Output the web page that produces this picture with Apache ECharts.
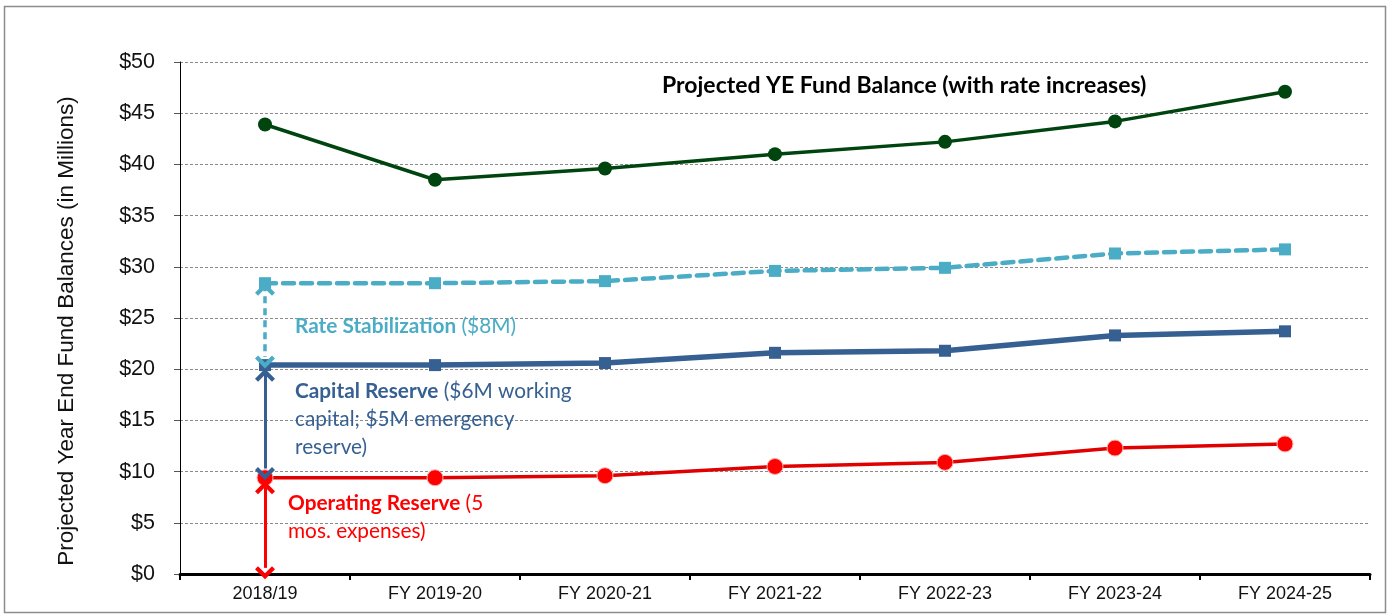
<!DOCTYPE html>
<html>
<head>
<meta charset="utf-8">
<script src="https://cdn.jsdelivr.net/npm/echarts@6/dist/echarts.min.js"></script>
<style>
html,body{margin:0;padding:0;background:#fff;}
#chart{width:1389px;height:615px;}
</style>
</head>
<body>
<div id="chart"></div>
<script>
const categories = ['2018/19','FY 2019-20','FY 2020-21','FY 2021-22','FY 2022-23','FY 2023-24','FY 2024-25'];
const fundBalance = [43.9, 38.5, 39.6, 41.0, 42.2, 44.2, 47.1];
const rateStabilization = [28.4, 28.4, 28.6, 29.6, 29.9, 31.3, 31.7];
const capitalReserve = [20.4, 20.4, 20.6, 21.6, 21.8, 23.3, 23.7];
const operatingReserve = [9.4, 9.4, 9.6, 10.5, 10.9, 12.3, 12.7];
const yTicks = [0, 5, 10, 15, 20, 25, 30, 35, 40, 45, 50];

const GREEN = '#00450f', CYAN = '#4BACC6', BLUE = '#376092', RED = '#FF0000';
const FONT = 'Lato, "Open Sans", sans-serif';
const chevron = 'path://M10,0 L20,10 L17,13 L10,6 L3,13 L0,10 Z';

// vertical double arrows spanning each reserve band at the first category
function shaft(color, top, bottom, dashed) {
  return {
    silent: true,
    symbol: ['none', 'none'],
    label: {show: false},
    emphasis: {disabled: true},
    lineStyle: {color: color, width: dashed ? 3.5 : 3, type: dashed ? [7, 5] : 'solid', opacity: 1},
    data: [[{coord: [0, top]}, {coord: [0, bottom]}]]
  };
}
function heads(name, color, top, bottom) {
  return {
    name: name, type: 'scatter', silent: true, z: 8,
    symbol: chevron, symbolSize: [20, 13],
    itemStyle: {color: color, opacity: 1},
    data: [
      {value: [0, top], symbolRotate: 0, symbolOffset: [0, 5]},
      {value: [0, bottom], symbolRotate: 180, symbolOffset: [0, 5]}
    ]
  };
}
const arrows = [
  {color: CYAN, top: rateStabilization[0] - 0.1, bottom: capitalReserve[0] + 0.8, dashed: true},
  {color: BLUE, top: capitalReserve[0] - 0.5, bottom: operatingReserve[0] + 0.9, dashed: false},
  {color: RED, top: operatingReserve[0] - 0.5, bottom: 0.6, dashed: false}
];

const chart = echarts.init(document.getElementById('chart'));
chart.setOption({
  animation: false,
  backgroundColor: '#fff',
  grid: {left: 180, right: 19, top: 62, bottom: 41},
  xAxis: {
    type: 'category',
    data: categories,
    boundaryGap: true,
    axisLine: {lineStyle: {color: '#000', width: 3}},
    axisTick: {show: true, length: 6, lineStyle: {color: '#000', width: 2}},
    axisLabel: {color: '#111', fontFamily: 'Liberation Sans, Arial', fontSize: 18, margin: 11},
    splitLine: {show: false}
  },
  yAxis: {
    type: 'value',
    min: 0, max: 50, interval: 5,
    name: 'Projected Year End Fund Balances (in Millions)',
    nameLocation: 'middle',
    nameGap: 102,
    nameTextStyle: {color: '#111', fontFamily: 'Liberation Sans, Arial', fontSize: 22.5, padding: [0, 26, 0, 0]},
    axisLine: {show: true, lineStyle: {color: '#000', width: 1}},
    axisTick: {show: true, length: 6, lineStyle: {color: '#555'}},
    axisLabel: {
      color: '#111', fontFamily: 'Liberation Sans, Arial', fontSize: 21.5, margin: 25,
      formatter: v => yTicks.indexOf(v) >= 0 ? '$' + v : ''
    },
    splitLine: {show: true, lineStyle: {color: '#8a8a8a', width: 1, type: [3, 2]}}
  },
  series: [
    {
      name: 'Projected YE Fund Balance', type: 'line', data: fundBalance,
      symbol: 'circle', symbolSize: 14, z: 5,
      lineStyle: {color: GREEN, width: 3.5},
      itemStyle: {color: GREEN}
    },
    {
      name: 'Rate Stabilization', type: 'line', data: rateStabilization,
      symbol: 'rect', symbolSize: 12, z: 4,
      lineStyle: {color: CYAN, width: 4.5, type: [11, 7], cap: 'round'},
      itemStyle: {color: CYAN},
      markLine: shaft(arrows[0].color, arrows[0].top, arrows[0].bottom, true)
    },
    {
      name: 'Capital Reserve', type: 'line', data: capitalReserve,
      symbol: 'rect', symbolSize: 12, z: 3,
      lineStyle: {color: BLUE, width: 5.5},
      itemStyle: {color: BLUE},
      markLine: shaft(arrows[1].color, arrows[1].top, arrows[1].bottom, false)
    },
    {
      name: 'Operating Reserve', type: 'line', data: operatingReserve,
      symbol: 'circle', symbolSize: 16, z: 2,
      lineStyle: {color: '#E00000', width: 3.5},
      itemStyle: {color: RED, borderColor: '#ffb0b0', borderWidth: 1},
      markLine: shaft(arrows[2].color, arrows[2].top, arrows[2].bottom, false)
    },
    heads('cyanHeads', arrows[0].color, arrows[0].top, arrows[0].bottom),
    heads('blueHeads', arrows[1].color, arrows[1].top, arrows[1].bottom),
    heads('redHeads', arrows[2].color, arrows[2].top, arrows[2].bottom)
  ],
  graphic: [
    {type: 'rect', silent: true, z: -1, shape: {x: 4.5, y: 6.5, width: 1381, height: 606},
     style: {fill: 'none', stroke: '#8c8c8c', lineWidth: 1.5}},
    {type: 'text', x: 662, y: 86, silent: true, z: 10,
     style: {text: 'Projected YE Fund Balance (with rate increases)', fill: '#000',
             font: 'bold 23px ' + FONT, verticalAlign: 'middle'}},
    {type: 'text', x: 295, y: 326, silent: true, z: 10,
     style: {text: '{b|Rate Stabilization} ($8M)', fill: CYAN, font: '20.8px ' + FONT, verticalAlign: 'middle',
             rich: {b: {fontWeight: 'bold', fill: CYAN, fontFamily: FONT, fontSize: 20.8}}}},
    {type: 'text', x: 295, y: 377, silent: true, z: 10,
     style: {text: '{b|Capital Reserve} ($6M working\ncapital; $5M emergency\nreserve)', fill: BLUE,
             font: '20.8px ' + FONT, lineHeight: 28, verticalAlign: 'top',
             rich: {b: {fontWeight: 'bold', fill: BLUE, fontFamily: FONT, fontSize: 20.8, lineHeight: 28}}}},
    {type: 'text', x: 288, y: 489, silent: true, z: 10,
     style: {text: '{b|Operating Reserve} (5\nmos. expenses)', fill: RED,
             font: '20.8px ' + FONT, lineHeight: 28, verticalAlign: 'top',
             rich: {b: {fontWeight: 'bold', fill: RED, fontFamily: FONT, fontSize: 20.8, lineHeight: 28}}}}
  ]
});
</script>
</body>
</html>
